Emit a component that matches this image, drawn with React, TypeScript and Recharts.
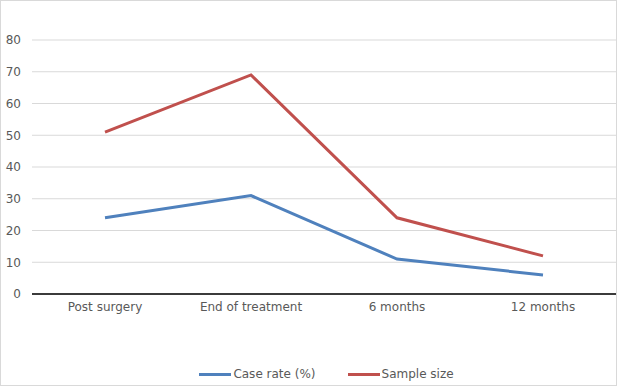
import { CartesianGrid, Legend, Line, LineChart, XAxis, YAxis } from "recharts";

const categories = ["Post surgery", "End of treatment", "6 months", "12 months"];
const caseRate = [24, 31, 11, 6];
const sampleSize = [51, 69, 24, 12];
const yTicks = [0, 10, 20, 30, 40, 50, 60, 70, 80];

const data = categories.map((c, i) => ({
  name: c,
  caseRate: caseRate[i],
  sampleSize: sampleSize[i],
}));

const BLUE = "#4f81bd";
const RED = "#c0504d";
const FONT = "'DejaVu Sans', sans-serif";

function LegendBox() {
  const items = [
    { label: "Case rate (%)", color: BLUE },
    { label: "Sample size", color: RED },
  ];
  return (
    <div
      style={{
        display: "flex",
        justifyContent: "center",
        gap: 32,
        paddingLeft: 36,
        fontFamily: FONT,
        fontSize: 12,
        color: "#595959",
      }}
    >
      {items.map((it) => (
        <div key={it.label} style={{ display: "flex", alignItems: "center" }}>
          <span style={{ display: "inline-block", width: 32, height: 3, background: it.color, marginRight: 2 }} />
          {it.label}
        </div>
      ))}
    </div>
  );
}

export default function App() {
  return (
    <div
      style={{
        position: "fixed",
        left: 0,
        top: 0,
        width: 615,
        height: 384,
        border: "1px solid #d9d9d9",
        background: "#fff",
      }}
    >
      <LineChart width={615} height={384} data={data} margin={{ top: 39, right: 0, left: 0, bottom: 47 }}>
        <CartesianGrid stroke="#d9d9d9" vertical={false} />
        <XAxis
          dataKey="name"
          tick={{ fill: "#595959", fontSize: 12, fontFamily: FONT }}
          tickLine={false}
          axisLine={{ stroke: "#000", strokeWidth: 1.5 }}
          height={30}
          padding={{ left: 73, right: 73 }}
          interval={0}
        />
        <YAxis
          domain={[0, 80]}
          ticks={yTicks}
          width={31}
          tick={{ fill: "#595959", fontSize: 12, fontFamily: FONT }}
          tickLine={false}
          axisLine={false}
          tickMargin={5}
        />
        <Legend content={<LegendBox />} wrapperStyle={{ bottom: 4 }} />
        <Line type="linear" dataKey="caseRate" stroke={BLUE} strokeWidth={3} dot={false} isAnimationActive={false} />
        <Line type="linear" dataKey="sampleSize" stroke={RED} strokeWidth={3} dot={false} isAnimationActive={false} />
      </LineChart>
    </div>
  );
}
